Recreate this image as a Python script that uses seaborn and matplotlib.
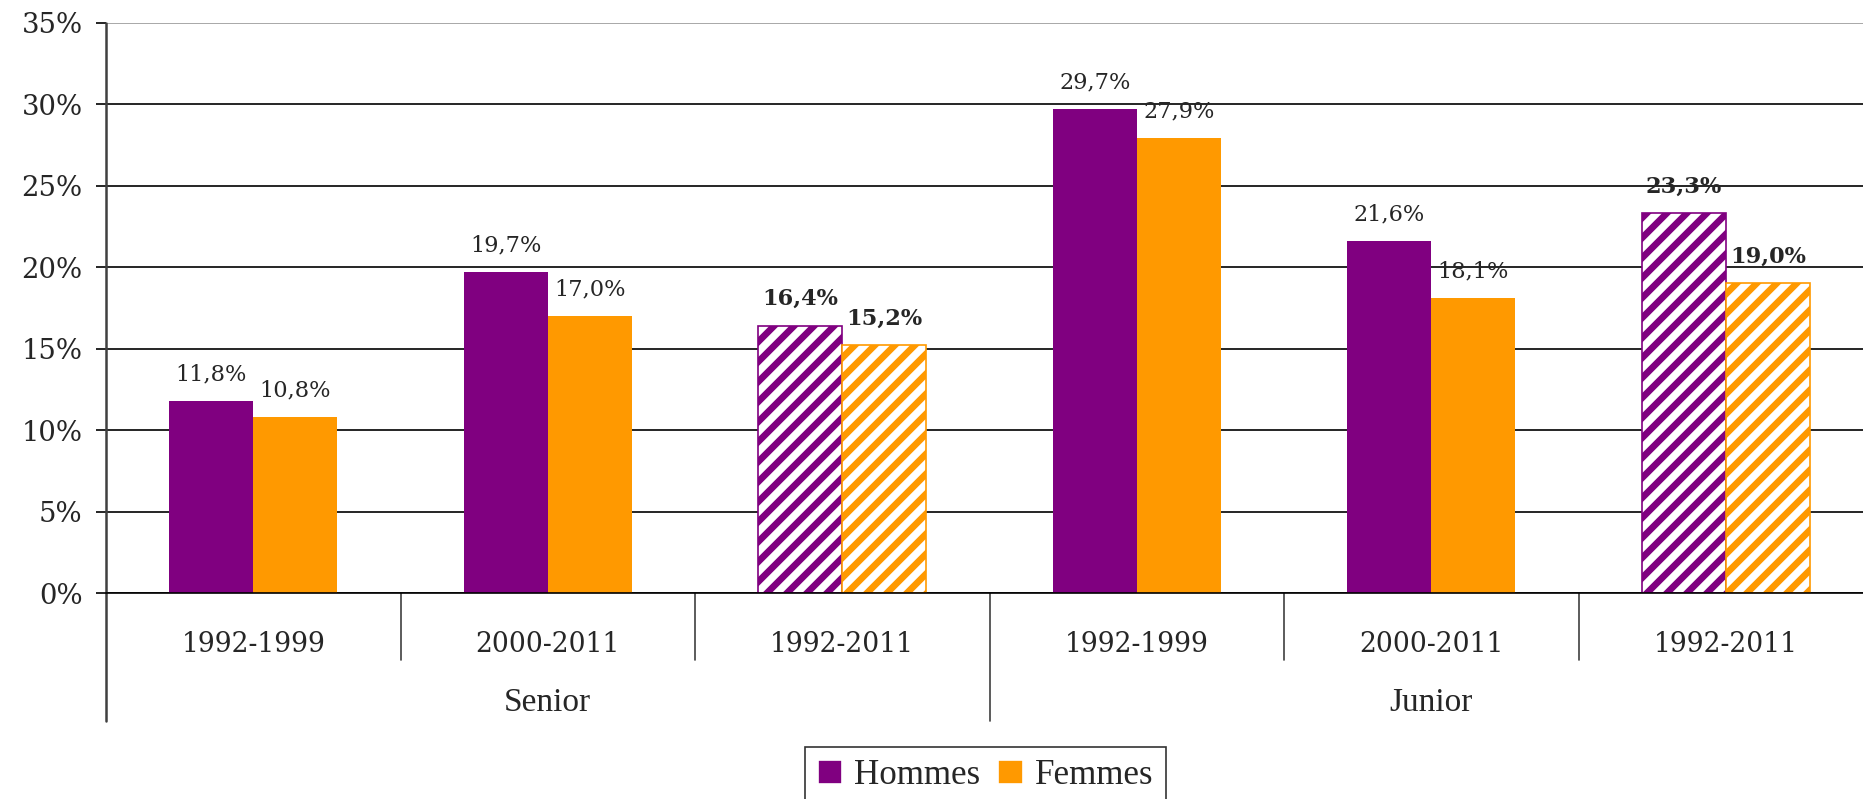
"""Grouped bars: Hommes / Femmes, Senior and Junior periods"""
import matplotlib
matplotlib.use("Agg")
import matplotlib.pyplot as plt
import matplotlib.transforms as mtransforms
from matplotlib.patches import Patch
import pandas as pd
import seaborn as sns

# Data
periods = ["1992-1999", "2000-2011", "1992-2011", "1992-1999", "2000-2011", "1992-2011"]
categories = ["Senior", "Senior", "Senior", "Junior", "Junior", "Junior"]
hommes = [11.8, 19.7, 16.4, 29.7, 21.6, 23.3]
femmes = [10.8, 17.0, 15.2, 27.9, 18.1, 19.0]
hatched = [False, False, True, False, False, True]
y_ticks = [0, 5, 10, 15, 20, 25, 30, 35]
series = ["Hommes", "Femmes"]
colors = {"Hommes": "#800080", "Femmes": "#FF9900"}

keys = [f"{c} {p}" for c, p in zip(categories, periods)]
df = pd.DataFrame({
    "key": keys * 2,
    "sexe": ["Hommes"] * len(keys) + ["Femmes"] * len(keys),
    "value": hommes + femmes,
})

sns.set_style("white")
plt.rcParams["hatch.linewidth"] = 4.0
SERIF = "DejaVu Serif"
TIMES = "Liberation Serif"

DPI = 120
fig = plt.figure(figsize=(1863.01 / DPI, 799.01 / DPI), dpi=DPI)
ax = fig.add_axes([0.0569, 0.2578, 0.9485, 0.7139])

sns.barplot(data=df, x="key", y="value", hue="sexe", order=keys, hue_order=series,
            palette=colors, width=0.57, gap=0, saturation=1, legend=False,
            linewidth=0, ax=ax)

# hatched bars + value labels
for name, container in zip(series, ax.containers):
    for i, bar in enumerate(container):
        if hatched[i]:
            bar.set_facecolor("white")
            bar.set_edgecolor(colors[name])
            bar.set_hatch("//")
            bar.set_linewidth(1)
        v = bar.get_height()
        ax.annotate(f"{v:.1f}".replace(".", ",") + "%",
                    (bar.get_x() + bar.get_width() / 2, v),
                    xytext=(0, 16), textcoords="offset points",
                    ha="center", va="center", fontsize=13.5, family=SERIF,
                    fontweight="bold" if hatched[i] else "normal")

# y axis
ax.set_ylim(0, 35)
ax.set_yticks(y_ticks)
ax.set_yticklabels([f"{t}%" for t in y_ticks], family=SERIF, fontsize=16.5)
ax.tick_params(axis="y", left=True, length=6, width=1, color="black", pad=8)
ax.yaxis.grid(True, color="black", lw=1)
ax.get_ygridlines()[-1].set_color("#999999")
ax.set_axisbelow(True)
ax.set_ylabel("")

# x axis: two-level category labels
ax.set_xlim(-0.5, 5.5)
ax.set_xticks([])
ax.set_xlabel("")
for s in ["top", "right", "left"]:
    ax.spines[s].set_visible(False)
ax.spines["bottom"].set_color("black")
ax.spines["bottom"].set_linewidth(1)

trans = mtransforms.blended_transform_factory(ax.transData, ax.transAxes)
ax.plot([-0.5, -0.5], [1, -0.225], transform=trans, color="#404040", lw=1.5, clip_on=False)
ax.plot([2.5, 2.5], [0, -0.225], transform=trans, color="#404040", lw=1, clip_on=False)
for x in [0.5, 1.5, 3.5, 4.5]:
    ax.plot([x, x], [0, -0.117], transform=trans, color="#404040", lw=1, clip_on=False)

for i, p in enumerate(periods):
    ax.text(i, -0.091, p, transform=trans, ha="center", va="center",
            family=SERIF, fontsize=16)
for name in ["Senior", "Junior"]:
    idx = [i for i, c in enumerate(categories) if c == name]
    ax.text(sum(idx) / len(idx), -0.193, name, transform=trans, ha="center",
            va="center", family=TIMES, fontsize=20)

handles = [Patch(facecolor=colors[s], label=s) for s in series]
leg = fig.legend(handles=handles, loc="upper center", bbox_to_anchor=(0.529, 0.065),
                 ncol=2, frameon=True, fancybox=False, prop={"family": TIMES, "size": 21},
                 handlelength=0.7, handleheight=0.7, handletextpad=0.35,
                 columnspacing=0.5, borderpad=0.35, borderaxespad=0)
leg.get_frame().set_edgecolor("black")
leg.get_frame().set_linewidth(1)

fig.savefig("out.png", dpi=DPI)
